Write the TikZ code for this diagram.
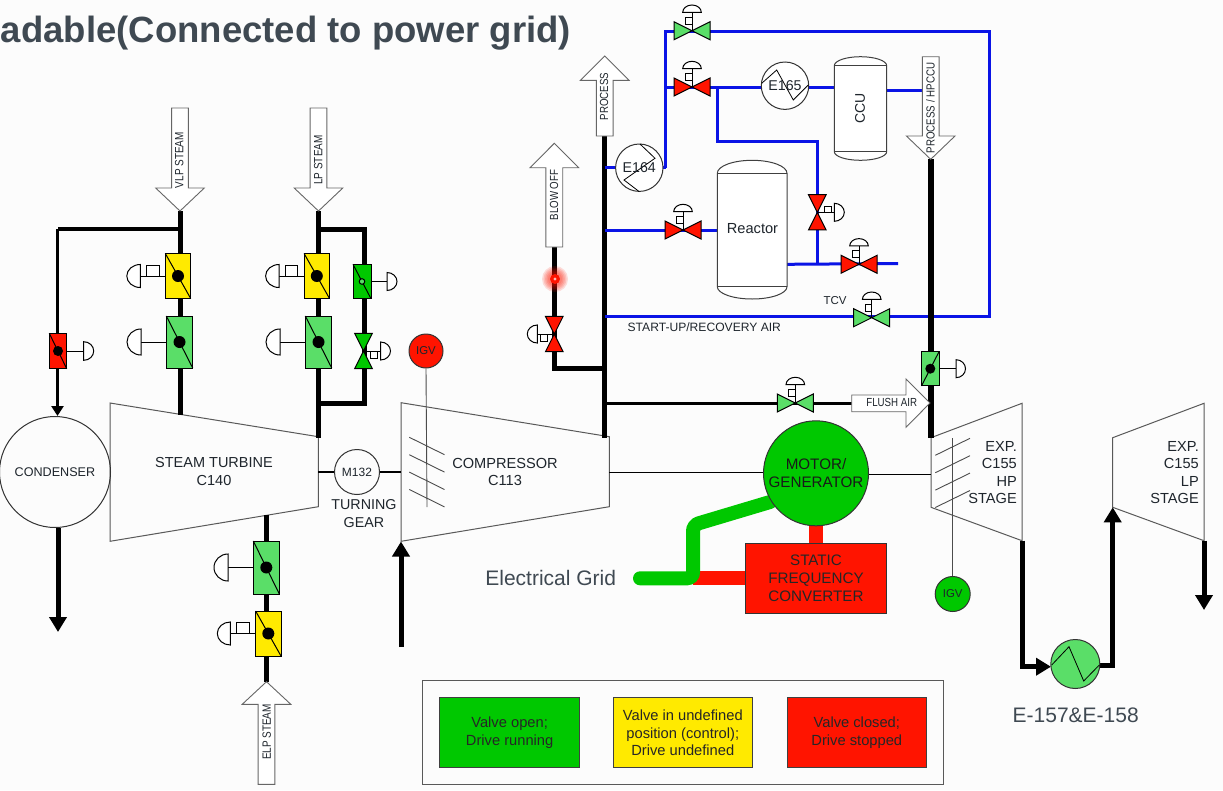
\documentclass[tikz,border=0pt]{standalone}
\usepackage{fontspec}
\usepackage{graphicx}
\setmainfont{Liberation Sans}
\usetikzlibrary{arrows.meta}
\definecolor{okgreen}{HTML}{00C800}
\definecolor{softgreen}{HTML}{5ADE68}
\definecolor{stopred}{HTML}{FF1400}
\definecolor{midyellow}{HTML}{FFEA00}
\definecolor{pipeblue}{HTML}{0A14E6}
\definecolor{labelink}{HTML}{1E252C}
\definecolor{slateink}{HTML}{3F4952}
\newcommand{\fsz}[1]{\fontsize{#1}{#1}\selectfont}
\newcommand{\narrowtxt}[1]{\scalebox{.83}[1]{#1}}
\tikzset{
 lbl/.style={inner sep=0pt,text=labelink,align=center},
 pipe/.style={draw=black,line width=5pt},
 midpipe/.style={draw=black,line width=3.4pt},
 flushpipe/.style={draw=black,line width=3pt},
 bluepipe/.style={draw=pipeblue,line width=3pt},
 shaft/.style={draw=black,line width=1.1pt},
 machine/.style={draw=black!65,line width=1pt},
 blockarrow/.style={draw=black!60,line width=.9pt,fill=white},
 vessel/.style={draw=black!75,line width=1pt,fill=white},
 vout/.style={draw=black,line width=1pt},
 blade/.style={draw=black!70,line width=.9pt},
 tipped/.style={-{Triangle[length=15pt,width=17pt]}},
 smalltip/.style={-{Triangle[length=10pt,width=12pt]}},
 round node/.style={circle,draw=black!80,line width=1pt,inner sep=0pt,text=labelink,align=center},
 statusbox/.style={draw=black!75,line width=1pt,inner sep=0pt,align=center,minimum width=139.5pt,minimum height=69.7pt,text=black!85,font=\fsz{14.7}},
}
% horizontal globe valve with top actuator
\newcommand{\globeH}[2]{\begin{scope}[shift={(#1)}]
 \draw[vout] (0,0) -- (0,-18.4);
 \draw[vout,fill=#2] (-18,-9) -- (18,9) -- (18,-9) -- (-18,9) -- cycle;
 \draw[vout,fill=white] (-6.7,-13.4) rectangle (0,-6.7);
 \draw[vout,fill=white] (-9.3,-18.4) arc[start angle=180,end angle=0,x radius=9.3pt,y radius=7.3pt] -- cycle;
\end{scope}}
% vertical globe valve, side actuator: name, colour, side, square top
\newcommand{\globeV}[4]{\begin{scope}[shift={(#1)}]
 \draw[vout,fill=#2] (-8.8,-17.6) -- (8.8,17.6) -- (-8.8,17.6) -- (8.8,-17.6) -- cycle;
 \begin{scope}[xscale=#3]
 \draw[vout] (0,.6) -- (17,.6);
 \draw[vout,fill=white] (7,#4) rectangle (13.8,#4+6.6);
 \draw[vout,fill=white] (17,-9) arc[start angle=90,end angle=-90,x radius=10pt,y radius=9pt] -- cycle;
 \end{scope}
\end{scope}}
% damper: name, half width, half height, colour, dot radius, diagonal sign
\newcommand{\damper}[6]{\begin{scope}[shift={(#1)}]
 \draw[vout,fill=#4] (-#2,-#3) rectangle (#2,#3);
 \begin{scope}[xscale=#6]\draw[vout] (-#2,-#3) -- (#2,#3);\end{scope}
 \fill[black] (0,0) circle[radius=#5pt];
\end{scope}}
% actuator: name, side, flat offset, half height, depth
\newcommand{\domeact}[5]{\begin{scope}[shift={(#1)},xscale=#2]
 \draw[vout] (0,0) -- (#3,0);
 \draw[vout,fill=white] (#3,-#4) arc[start angle=90,end angle=-90,x radius=#5pt,y radius=#4pt] -- cycle;
\end{scope}}
% square: name, side, x1, x2, y1, y2
\newcommand{\sqact}[6]{\begin{scope}[shift={(#1)},xscale=#2]
 \draw[vout,fill=white] (#3,#5) rectangle (#4,#6);
\end{scope}}
% vessel: x1,x2,y top end,y top line,y bottom line,y bottom end
\newcommand{\drum}[6]{
 \pgfmathsetmacro{\rx}{(#2-#1)/2}\pgfmathsetmacro{\rt}{#4-#3}\pgfmathsetmacro{\rb}{#6-#5}
 \draw[vessel] (#1,#4) arc[start angle=180,end angle=0,x radius=\rx pt,y radius=\rt pt]
   -- (#2,#5) arc[start angle=0,end angle=-180,x radius=\rx pt,y radius=\rb pt] -- cycle;
 \draw[vessel] (#1,#4) -- (#2,#4) (#1,#5) -- (#2,#5);
}
% vertical block arrow: x, tail y, base y, tip y
\newcommand{\blockV}[4]{\draw[blockarrow] (#1-8.4,#2) -- (#1+8.4,#2) -- (#1+8.4,#3) -- (#1+24.3,#3) -- (#1,#4) -- (#1-24.3,#3) -- (#1-8.4,#3) -- cycle;}
\begin{document}
\begin{tikzpicture}[x=1pt,y=-1pt]
\useasboundingbox (0,0) rectangle (1223,790);
\fill[white!99!black] (0,0) rectangle (1223,790);

% ---------- junction and end points
\coordinate (vlpTip) at (180,211); \coordinate (vlpJ) at (180,229); \coordinate (vlpEnd) at (180,415);
\coordinate (cndCorner) at (57.5,229); \coordinate (cndIn) at (57.5,416);
\coordinate (lpTip) at (318.5,211); \coordinate (lpA) at (318.5,229); \coordinate (lpB) at (364,229);
\coordinate (lpC) at (364,403); \coordinate (lpD) at (318.5,403); \coordinate (lpEnd) at (318.5,438);
\coordinate (cndOut) at (58,528); \coordinate (cndDown) at (58,632);
\coordinate (extTop) at (266.5,515); \coordinate (elpTip) at (266.5,682);
\coordinate (airIn) at (401,647); \coordinate (airTip) at (401,541.5);
\coordinate (procTail) at (604.7,136); \coordinate (procEnd) at (604.7,438);
\coordinate (blowTail) at (554.3,247); \coordinate (blowCorner) at (554.3,368.3); \coordinate (blowJ) at (604.7,368.3);
\coordinate (hpTip) at (930.7,159.3); \coordinate (hpEnd) at (930.7,437.7);
\coordinate (flushJ) at (604.7,403); \coordinate (flushBase) at (851.7,403);
\coordinate (sA) at (318.3,472); \coordinate (sB) at (401,472);
\coordinate (sC) at (609.3,472.3); \coordinate (sD) at (931,474.3);
\coordinate (hpOut) at (1022,540.7); \coordinate (hpLow) at (1022,666.7); \coordinate (hxIn) at (1051,666.7);
\coordinate (hxOut) at (1099,665); \coordinate (lpLow) at (1112.7,665); \coordinate (lpIn) at (1112.7,507.3);
\coordinate (lpOut) at (1204,540.7); \coordinate (lpDown) at (1204,610);
\coordinate (bTop) at (665.7,31); \coordinate (bCorner) at (989.3,31); \coordinate (bLow) at (989.3,316.7);
\coordinate (bStart) at (604.7,316.7); \coordinate (bExchTop) at (665.7,167.7);
\coordinate (bE164in) at (604.7,167.7); \coordinate (bMid) at (665.7,87);
\coordinate (bFeed) at (717.3,87); \coordinate (bFeedA) at (717.3,141.3); \coordinate (bFeedB) at (817.3,141.3);
\coordinate (bFeedC) at (817.3,264.3); \coordinate (bCcuIn) at (835,87);
\coordinate (bCcuOut) at (886.7,90.7); \coordinate (bCcuEnd) at (922.3,90.7);
\coordinate (bReacL) at (604.7,230); \coordinate (bReacR) at (717.3,230);
\coordinate (bOutA) at (787,264.3); \coordinate (bOutB) at (898,263.5);
\coordinate (gridL) at (640,578.3); \coordinate (gridC) at (693,578.3); \coordinate (gridU) at (693,525); \coordinate (gridM) at (770,502);
\coordinate (sfcJ) at (745.4,578.3);
% valve centres
\coordinate (vTop) at (692,30.7); \coordinate (vMid) at (692,87); \coordinate (vFeed) at (817.3,212.3);
\coordinate (vReac) at (683,230); \coordinate (vOut) at (859,264.3); \coordinate (vTcv) at (871.7,317.7);
\coordinate (vFlush) at (795.3,403); \coordinate (vBlow) at (554.3,334); \coordinate (vBypass) at (363.5,351);
% damper centres
\coordinate (dVlpY) at (178,276); \coordinate (dVlpG) at (179.5,342); \coordinate (dCnd) at (58,351);
\coordinate (dLpY) at (316.8,276); \coordinate (dLpG) at (318.5,342); \coordinate (dByp) at (362,281.5);
\coordinate (dHp) at (930.3,368.7); \coordinate (dExG) at (266.3,567.5); \coordinate (dExY) at (268.3,633.5);

% ---------- title
\node[inner sep=0pt,anchor=base east,text=slateink,font=\bfseries\fsz{36.5}] (title) at (571,42.7) {adable(Connected to power grid)};

% ---------- machines
\draw[machine] (110,403) -- (318.3,436.7) -- (318.3,506.7) -- (110,541.3) -- cycle;
\draw[machine] (401,402.7) -- (609.3,436.7) -- (609.3,506.7) -- (401,541.3) -- cycle;
\draw[machine] (931,437.7) -- (1022,403.3) -- (1022,540.7) -- (931,507.3) -- cycle;
\draw[machine] (1112.7,437.7) -- (1204,403.3) -- (1204,540.7) -- (1112.7,507.3) -- cycle;
\foreach \b in {0,17.4,34.8,52.2}{
 \draw[blade] (409.3,437.3+\b) -- (444.5,454.7+\b);
 \draw[blade] (935.3,455.3+\b) -- (970,438.3+\b);
}

% ---------- nodes
\node[round node,minimum size=111pt,font=\fsz{12.6}] (cond) at (55,472) {CONDENSER};
\node[round node,minimum size=45pt,font=\fsz{12}] (m132) at (357,472) {M132};
\node[round node,minimum size=34pt,fill=stopred,font=\fsz{11.4}] (igvR) at (426,351) {IGV};
\node[round node,minimum size=35pt,fill=okgreen,font=\fsz{11.4}] (igvG) at (952.7,594) {IGV};
\node[draw=black!80,line width=1pt,fill=stopred,inner sep=0pt,minimum width=141.4pt,minimum height=70pt,align=center,text=black!85,font=\fsz{15.2}] (sfc) at (816,578.3) {STATIC\\[2.7pt]FREQUENCY\\[2.7pt]CONVERTER};
\coordinate (motorAt) at (816,473.3);

% ---------- shafts and IGV rods
\draw[shaft] (sA) -- (m132.west);
\draw[shaft] (m132.east) -- (sB);
\draw[blade] (igvR.south) -- (427,507);
\draw[blade] (igvG.north) -- (952.7,438);

% ---------- electrical lines
\draw[stopred,line width=14pt] (gridC) -- (sfcJ);
\draw[stopred,line width=14pt] (motorAt) -- (sfc.north);
\draw[okgreen,line width=14pt,line cap=round,rounded corners=6pt] (gridL) -- (gridC) -- (gridU) -- (gridM);
\node[round node,minimum size=105pt,fill=okgreen,text=black!90,font=\fsz{15.2}] (motor) at (motorAt) {MOTOR/\\[2.6pt]GENERATOR};
\draw[shaft] (sC) -- (motor.west |- sC);
\draw[shaft] (motor.east |- sD) -- (sD);

% ---------- black pipes
\draw[pipe] (vlpTip) -- (vlpEnd);
\draw[midpipe] (vlpJ) -- (cndCorner);
\draw[midpipe,smalltip] (cndCorner) -- (cndIn);
\draw[pipe] (lpTip) -- (lpEnd);
\draw[pipe] (lpA) -- (lpB) -- (lpC) -- (lpD);
\draw[pipe,tipped] (cndOut) -- (cndDown);
\draw[pipe] (extTop) -- (elpTip);
\draw[pipe,tipped] (airIn) -- (airTip);
\draw[pipe] (procTail) -- (procEnd);
\draw[pipe] (blowTail) -- (blowCorner) -- (blowJ);
\draw[flushpipe] (flushJ) -- (flushBase);
\draw[pipe,tipped,line join=miter] (hpOut) -- (hpLow) -- (hxIn);
\draw[pipe,tipped,line join=miter] (hxOut) -- (lpLow) -- (lpIn);
\draw[pipe,tipped] (lpOut) -- (lpDown);

% ---------- blue pipes
\draw[bluepipe] (bExchTop) -- (bTop) -- (bCorner) -- (bLow) -- (bStart);
\draw[bluepipe] (bE164in) -- (bExchTop);
\draw[bluepipe] (bMid) -- (bCcuIn);
\draw[bluepipe] (bFeed) -- (bFeedA) -- (bFeedB) -- (bFeedC);
\draw[bluepipe] (bCcuOut) -- (bCcuEnd);
\draw[bluepipe] (bReacL) -- (bReacR);
\draw[bluepipe] (bOutA) -- (bOutB);
\draw[line width=6pt,black] (hpTip) -- (hpEnd);

% ---------- vessels and exchangers
\drum{834.3}{886.7}{56.7}{65.7}{151.7}{160.3}
\drum{717.3}{787}{160.3}{173.3}{286.7}{299}
\node[lbl,rotate=90,font=\fsz{14}] (ccu) at (860,108.7) {CCU};
\node[lbl,font=\fsz{14.6}] (reactor) at (752.5,228.7) {Reactor};
\node[round node,minimum size=47.4pt,fill=white] (e164) at (639.3,167.7) {};
\draw[vout,line width=.8pt] (640,144) -- (655,158.3) -- (624,180) -- (639.3,191.7);
\node[lbl,font=\fsz{14.2}] (e164t) at (e164) {E164};
\node[round node,minimum size=47.4pt,fill=white] (e165) at (785,85.7) {};
\draw[vout,line width=.8pt] (761.7,83.3) -- (776.7,70) -- (793.3,100) -- (808.3,85);
\node[lbl,font=\fsz{14.2}] (e165t) at (e165) {E165};
\node[round node,minimum size=49pt,fill=softgreen] (hx) at (1075.3,664) {};
\draw[vout,line width=.8pt] (1051.7,665) -- (1069,646.7) -- (1083.7,681) -- (1099.3,665);

% ---------- block arrows
\blockV{180}{108}{188}{211}
\blockV{318.5}{108}{188}{211}
\blockV{266.5}{784.3}{704.3}{681.7}
\blockV{604.7}{136}{80.3}{56}
\blockV{554.3}{247}{167.7}{143.3}
\blockV{930.7}{56.7}{136}{159.3}
\draw[blockarrow] (851.7,395) -- (906,395) -- (906,379) -- (930,403) -- (906,427.3) -- (906,411.7) -- (851.7,411.7) -- cycle;
\node[lbl,rotate=90,font=\fsz{12}] (vlpT) at (179.3,160.2) {\narrowtxt{VLP STEAM}};
\node[lbl,rotate=90,font=\fsz{12}] (lpT) at (318.3,160) {\narrowtxt{LP STEAM}};
\node[lbl,rotate=90,font=\fsz{12}] (elpT) at (266.7,732) {\narrowtxt{ELP STEAM}};
\node[lbl,rotate=90,font=\fsz{11.7}] (procT) at (604,96.5) {\narrowtxt{PROCESS}};
\node[lbl,rotate=90,font=\fsz{11.7}] (blowT) at (554,195) {\narrowtxt{BLOW OFF}};
\node[lbl,rotate=90,font=\fsz{11.7}] (hpT) at (930.5,108) {\narrowtxt{PROCESS / HPCCU}};
\node[lbl,font=\fsz{11.7}] (flushT) at (891.7,402.5) {\narrowtxt{FLUSH AIR}};

% ---------- valves
\globeH{vTop}{softgreen}
\globeH{vMid}{stopred}
\globeH{vReac}{stopred}
\globeH{vOut}{stopred}
\globeH{vTcv}{softgreen}
\globeH{vFlush}{softgreen}
\globeV{vFeed}{stopred}{1}{-6.3}
\globeV{vBlow}{stopred}{-1}{.6}
\globeV{vBypass}{okgreen}{1}{.8}

% ---------- dampers
\domeact{dVlpY}{-1}{37.7}{11.5}{13.5}\sqact{dVlpY}{-1}{19}{31.3}{-11}{0}
\damper{dVlpY}{12.7}{22.5}{midyellow}{6}{1}
\domeact{dVlpG}{-1}{38.5}{13}{14}\damper{dVlpG}{13.2}{26}{softgreen}{6}{1}
\domeact{dCnd}{1}{25.7}{9.3}{10}\damper{dCnd}{8.8}{17.8}{stopred}{5}{1}
\domeact{dLpY}{-1}{37.7}{11.5}{13.5}\sqact{dLpY}{-1}{19}{31.3}{-11}{0}
\damper{dLpY}{12.7}{22.5}{midyellow}{6}{1}
\domeact{dLpG}{-1}{38.5}{13}{14}\damper{dLpG}{13.2}{26}{softgreen}{6}{1}
\domeact{dByp}{1}{25}{9}{10}\damper{dByp}{9}{17.2}{okgreen}{0}{1}
\draw[vout,fill=softgreen] (dByp) circle[radius=2.8pt];
\domeact{dHp}{1}{25.7}{9}{9.5}\damper{dHp}{8.8}{17.2}{softgreen}{5}{-1}
\domeact{dExG}{-1}{38.3}{13.5}{14}\damper{dExG}{13}{26.5}{softgreen}{6}{1}
\domeact{dExY}{-1}{38}{11.5}{13}\sqact{dExY}{-1}{19}{32}{-11}{0}
\damper{dExY}{12.7}{22.5}{midyellow}{6}{1}

% ---------- glowing marker
\foreach \r in {13,11.5,10,8.5,7}{\fill[stopred,opacity=.14] (555,279) circle[radius=\r pt];}
\fill[stopred] (555,279) circle[radius=5pt];
\fill[white!70!stopred] (555,279) circle[radius=1.7pt];

% ---------- labels
\node[lbl,font=\fsz{14.5}] (tTurb) at (214,471.5) {STEAM TURBINE\\[3pt]C140};
\node[lbl,font=\fsz{14.3}] (tGear) at (364,513.5) {TURNING\\[3pt]GEAR};
\node[lbl,font=\fsz{14.6}] (tComp) at (505,472) {COMPRESSOR\\[3pt]C113};
\node[lbl,anchor=east,align=right,font=\fsz{14.6}] (tHp) at (1017,472.5) {EXP.\\[2.8pt]C155\\[2.8pt]HP\\[2.8pt]STAGE};
\node[lbl,anchor=east,align=right,font=\fsz{14.6}] (tLp) at (1199,472.5) {EXP.\\[2.8pt]C155\\[2.8pt]LP\\[2.8pt]STAGE};
\node[lbl,font=\fsz{11.5}] (tTcv) at (835,300.7) {TCV};
\node[lbl,font=\fsz{12.1}] (tAir) at (704.3,327.3) {START-UP/RECOVERY AIR};
\node[inner sep=0pt,text=slateink,font=\fsz{21}] (tGrid) at (550.7,578.3) {Electrical Grid};
\node[inner sep=0pt,text=slateink,font=\fsz{21}] (tHx) at (1075.7,715) {E-157\&E-158};

% ---------- legend
\node[draw=black!65,line width=1pt,inner sep=0pt,minimum width=521pt,minimum height=104.3pt] (legend) at (683,732.2) {};
\node[statusbox,fill=okgreen] (lgG) at (509.6,732.8) {Valve open;\\[2.8pt]Drive running};
\node[statusbox,fill=midyellow] (lgY) at (682.8,732.8) {Valve in undefined\\[2.8pt]position (control);\\[2.8pt]Drive undefined};
\node[statusbox,fill=stopred] (lgR) at (856.8,732.8) {Valve closed;\\[2.8pt]Drive stopped};
\end{tikzpicture}
\end{document}
